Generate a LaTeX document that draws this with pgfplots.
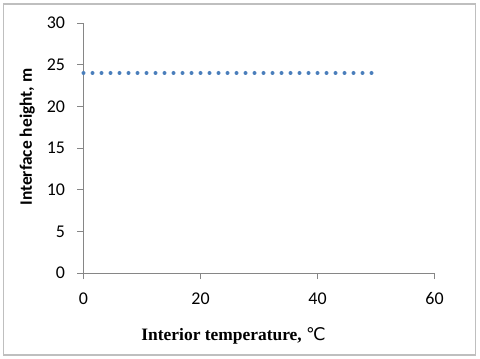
\documentclass[border=0pt]{standalone}
\usepackage{fontspec}
\setmainfont{Liberation Serif}
\newfontfamily\calibri{Carlito}
\newfontfamily\symfont{DejaVu Sans}
\usepackage{pgfplots}
\pgfplotsset{compat=1.18}
\definecolor{dotblue}{HTML}{4A7EBB}
\definecolor{axgray}{HTML}{868686}
\definecolor{framegray}{HTML}{BFBFBF}
\begin{document}
\begin{tikzpicture}
\useasboundingbox (0bp,0bp) rectangle (480bp,359bp);
% chart area frame
\draw[framegray, line width=1.2bp] (3.5bp,4bp) rectangle (475.5bp,355bp);
\begin{axis}[
  at={(83.5bp,86bp)}, anchor=origin,
  scale only axis, width=351bp, height=250bp,
  xmin=0, xmax=60, ymin=0, ymax=30,
  axis lines=left, axis line style={axgray, line width=0.9bp, -},
  xtick={0,20,40,60}, ytick={0,5,...,30},
  tick style={axgray, line width=0.9bp},
  tick align=outside, major tick length=6bp,
  tick label style={font=\calibri\fontsize{18}{20}\selectfont, text=black},
  /pgf/number format/assume math mode=true,
  xticklabel style={yshift=-10bp},
  yticklabel style={xshift=-9bp},
  xlabel={\bfseries Interior temperature, {\symfont\mdseries ℃}},
  ylabel={\calibri\bfseries Interface height, m},
  label style={font=\fontsize{17.5}{20}\selectfont},
  xlabel style={at={(axis description cs:0.155,-0.268)}, anchor=base west},
  ylabel style={at={(axis description cs:-0.147,0.544)}, anchor=base},
  clip=false,
]
\addplot[dotblue, line width=4bp, line cap=round, dash pattern=on 0pt off 9bp]
  coordinates {(0,24) (50,24)};
\end{axis}
\end{tikzpicture}
\end{document}
